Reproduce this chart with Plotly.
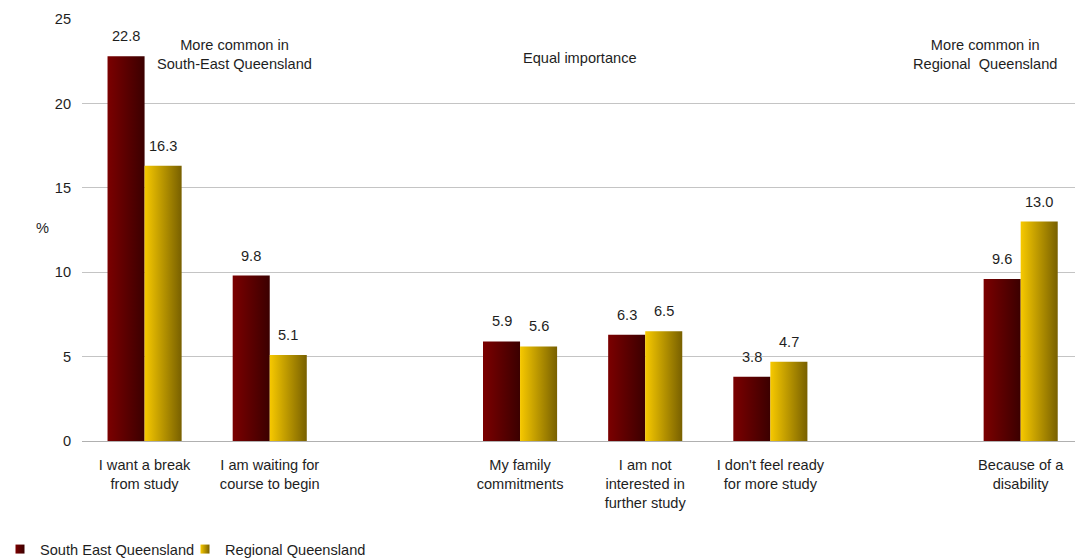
import plotly.graph_objects as go

# Reasons for not studying, share of respondents (%)
categories = [
    "I want a break<br>from study",
    "I am waiting for<br>course to begin",
    "My family<br>commitments",
    "I am not<br>interested in<br>further study",
    "I don't feel ready<br>for more study",
    "Because of a<br>disability",
]
south_east_qld = [22.8, 9.8, 5.9, 6.3, 3.8, 9.6]
regional_qld = [16.3, 5.1, 5.6, 6.5, 4.7, 13.0]
y_ticks = [0, 5, 10, 15, 20, 25]

# slot index of each category on the x axis (gaps separate the three groups)
slots = [0, 1, 3, 4, 5, 7]
bar_w = 0.296

series = [
    ("South East Queensland", south_east_qld, "#7b0000", "#3b0000", -1),
    ("Regional Queensland", regional_qld, "#f7c900", "#786000", 0),
]

FONT = "Liberation Sans, Arial, sans-serif"
TXT = "#1e1e1e"
FS = 14.6

fig = go.Figure()
annotations = []

for name, values, c0, c1, side in series:
    for slot, v in zip(slots, values):
        x0 = slot + side * bar_w
        x1 = x0 + bar_w
        fig.add_trace(go.Scatter(
            x=[x0, x0, x1, x1, x0], y=[0, v, v, 0, 0],
            mode="lines", line=dict(width=0), fill="toself",
            fillgradient=dict(type="horizontal", colorscale=[[0, c0], [1, c1]]),
            showlegend=False, hoverinfo="skip",
        ))
        annotations.append(dict(
            x=(x0 + x1) / 2, y=v, xref="x", yref="y", text=f"{v:.1f}",
            showarrow=False, yanchor="bottom", yshift=10,
            font=dict(family=FONT, size=FS, color=TXT),
        ))
    # legend swatch for the series
    fig.add_trace(go.Scatter(
        x=[None], y=[None], mode="markers", name=name,
        marker=dict(symbol="square", size=9, color=c0,
                    gradient=dict(type="horizontal", color=c1)),
    ))

notes = [
    ("More common in<br>South-East Queensland", 0.719, 22.9),
    ("Equal importance", 3.477, 22.7),
    ("More common in<br>Regional  Queensland", 6.714, 22.9),
]
for text, x, y in notes:
    annotations.append(dict(
        x=x, y=y, xref="x", yref="y", text=text, showarrow=False,
        xanchor="center", yanchor="middle",
        font=dict(family=FONT, size=FS, color=TXT),
    ))

annotations.append(dict(
    x=-0.048, y=0.505, xref="paper", yref="paper", text="%", showarrow=False,
    font=dict(family=FONT, size=FS, color=TXT),
))

fig.update_layout(
    width=1075, height=558,
    margin=dict(l=82, r=0, t=19, b=117, autoexpand=False),
    paper_bgcolor="white", plot_bgcolor="white",
    font=dict(family=FONT, size=FS, color=TXT),
    annotations=annotations,
    showlegend=True,
    legend=dict(
        orientation="h", xref="container", x=-0.03, xanchor="left",
        yref="container", y=0.016, yanchor="middle",
        font=dict(family=FONT, size=FS, color=TXT),
        itemwidth=30, tracegroupgap=0, bgcolor="rgba(0,0,0,0)",
        entrywidth=140, entrywidthmode="pixels",
    ),
    xaxis=dict(
        range=[-0.5, 7.434], tickmode="array", tickvals=slots, ticktext=categories,
        showgrid=False, zeroline=False, showline=False, ticks="",
        ticklabelstandoff=13,
        tickfont=dict(family=FONT, size=FS, color=TXT), fixedrange=True,
    ),
    yaxis=dict(
        range=[0, 25], tickmode="array", tickvals=y_ticks,
        showgrid=True, gridcolor="#c4c4c4", gridwidth=1,
        zeroline=True, zerolinecolor="#b0b0b0", zerolinewidth=1,
        showline=False, ticks="", ticklabelstandoff=10,
        tickfont=dict(family=FONT, size=FS, color=TXT), fixedrange=True,
    ),
)

fig.write_html("out.html")
